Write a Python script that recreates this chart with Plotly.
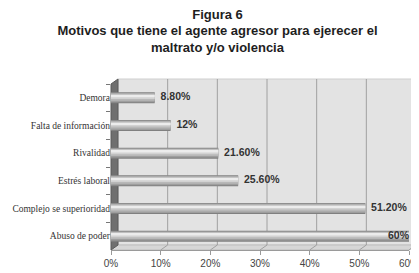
import plotly.graph_objects as go

categories = ["Demora", "Falta de información", "Rivalidad", "Estrés laboral",
              "Complejo se superioridad", "Abuso de poder"]
values = [8.8, 12, 21.6, 25.6, 51.2, 60]
value_labels = ["8.80%", "12%", "21.60%", "25.60%", "51.20%", "60%"]
tick_values = [0, 10, 20, 30, 40, 50, 60]
tick_labels = ["0%", "10%", "20%", "30%", "40%", "50%", "60%"]

W, H = 419, 273
L, R, T, B = 103, 18, 76, 31
PW, PH = W - L - R, H - T - B
DX, DY = 7, 5  # depth offset of back wall in px


def px(x):
    return (x - L) / PW


def py(y):
    return (H - B - y) / PH


fig = go.Figure()

# cylinder-like bars: layered overlays
layers = [
    (0.40, 0.0, "#808080"),
    (0.34, -0.01, "#9e9e9e"),
    (0.26, -0.025, "#b8b8b8"),
    (0.16, -0.04, "#d2d2d2"),
    (0.07, -0.055, "#ececec"),
]
for i, (w, off, col) in enumerate(layers):
    fig.add_trace(go.Bar(
        y=categories, x=values, orientation="h",
        width=w, offset=-w / 2 + off,
        marker=dict(color=col, line=dict(width=0)),
        hoverinfo="skip", showlegend=False,
    ))

# value labels
positions = ["middle right" if v < max(values) else "middle left" for v in values]
fig.add_trace(go.Scatter(
    y=categories, x=values, mode="text",
    text=["  " + t if p == "middle right" else t for t, p in zip(value_labels, positions)],
    textposition=positions,
    textfont=dict(family="Liberation Sans, Arial", size=10.5, color="#333333", weight="bold"),
    cliponaxis=False, hoverinfo="skip", showlegend=False,
))

shapes = []
# back wall
shapes.append(dict(type="rect", xref="paper", yref="paper",
                   x0=px(L + DX), x1=px(L + PW + DX), y0=py(H - B - DY), y1=py(T - DY),
                   fillcolor="#e3e3e3", line=dict(color="#cfcfcf", width=1), layer="below"))
# floor
shapes.append(dict(type="path", xref="paper", yref="paper",
                   path=f"M {px(L)} {py(H-B)} L {px(L+PW)} {py(H-B)} L {px(L+PW+DX)} {py(H-B-DY)} L {px(L+DX)} {py(H-B-DY)} Z",
                   fillcolor="#d6d6d6", line=dict(color="#bdbdbd", width=1), layer="below"))
# left wall
shapes.append(dict(type="path", xref="paper", yref="paper",
                   path=f"M {px(L)} {py(H-B)} L {px(L+DX)} {py(H-B-DY)} L {px(L+DX)} {py(T-DY)} L {px(L)} {py(T)} Z",
                   fillcolor="#6f6f6f", line=dict(color="#5a5a5a", width=1), layer="below"))
# grid lines on back wall + floor diagonals
for v in tick_values[1:]:
    fx = L + v / 60 * PW
    shapes.append(dict(type="line", xref="paper", yref="paper",
                       x0=px(fx + DX), x1=px(fx + DX), y0=py(H - B - DY), y1=py(T - DY),
                       line=dict(color="#a0a0a0", width=1), layer="below"))
    shapes.append(dict(type="line", xref="paper", yref="paper",
                       x0=px(fx), x1=px(fx + DX), y0=py(H - B), y1=py(H - B - DY),
                       line=dict(color="#a0a0a0", width=1), layer="below"))

fig.update_layout(
    width=W, height=H,
    margin=dict(l=L, r=R, t=T, b=B, autoexpand=False),
    paper_bgcolor="white", plot_bgcolor="rgba(0,0,0,0)",
    barmode="overlay",
    shapes=shapes,
    title=dict(
        text="Figura 6<br>Motivos que tiene el agente agresor para ejerecer el<br>maltrato y/o violencia",
        x=0.5, xref="container", xanchor="center",
        y=1 - 10.5 / H, yref="container", yanchor="middle",
        font=dict(family="Liberation Sans, Arial", size=13, color="#1e1e1e", weight="bold"),
    ),
    xaxis=dict(range=[0, 60], tickvals=tick_values, ticktext=tick_labels,
               showgrid=False, zeroline=False, showline=True, linecolor="#9a9a9a",
               ticks="outside", ticklen=4, tickcolor="#9a9a9a", automargin=False,
               tickfont=dict(family="Liberation Sans, Arial", size=10, color="#444444")),
    yaxis=dict(autorange="reversed", showgrid=False, zeroline=False, showline=False,
               ticks="outside", ticklen=4, tickcolor="#777777", tickson="boundaries",
               automargin=False,
               tickfont=dict(family="Liberation Serif, Times New Roman", size=9.5, color="#333333")),
)

fig.write_html("out.html")
